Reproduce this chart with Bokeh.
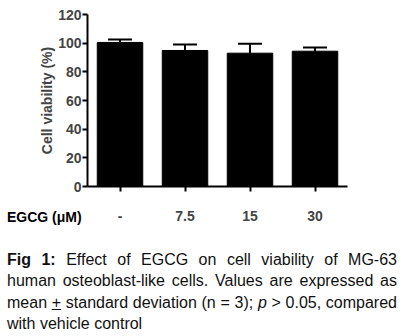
from bokeh.plotting import figure
from bokeh.models import Range1d, FixedTicker, Div, ColumnDataSource
from bokeh.layouts import column
from bokeh.embed import file_html
from bokeh.resources import INLINE

categories = ["-", "7.5", "15", "30"]
viability = [100.5, 94.9, 93.0, 94.4]
sd = [2.1, 4.2, 6.6, 2.6]
y_ticks = [0, 20, 40, 60, 80, 100, 120]
x_title = "EGCG (\u03bcM)"
y_title = "Cell viability (%)"

FONT = "Liberation Sans"

xs = [i + 0.5 for i in range(len(categories))]
tops = [v + s for v, s in zip(viability, sd)]
cap_half = 0.185

p = figure(width=415, height=240, output_backend="svg", toolbar_location=None,
           x_range=Range1d(0, len(categories)), y_range=Range1d(0, 120),
           min_border_left=87, min_border_right=68, min_border_top=14, min_border_bottom=54)
p.outline_line_color = None
p.xgrid.visible = False
p.ygrid.visible = False
p.background_fill_color = "white"
p.border_fill_color = "white"

src = ColumnDataSource(dict(x=xs, v=viability, top=tops,
                            cl=[x - cap_half for x in xs], cr=[x + cap_half for x in xs]))
p.segment(x0="x", y0="v", x1="x", y1="top", source=src, line_color="black", line_width=2)
p.segment(x0="cl", y0="top", x1="cr", y1="top", source=src, line_color="black", line_width=2)
p.vbar(x="x", top="v", width=0.7, bottom=0, source=src, fill_color="black", line_color="black")

# y axis
ya = p.yaxis[0]
ya.ticker = FixedTicker(ticks=y_ticks)
ya.axis_label = y_title
ya.axis_label_text_font = FONT
ya.axis_label_text_font_style = "bold"
ya.axis_label_text_font_size = "14px"
ya.axis_label_standoff = 0
ya.major_label_text_font = FONT
ya.major_label_text_font_style = "bold"
ya.major_label_text_font_size = "14px"
ya.major_label_standoff = 1
ya.axis_line_width = 2
ya.major_tick_line_width = 2
ya.major_tick_out = 5
ya.major_tick_in = 0
ya.minor_tick_line_color = None

# x axis
xa = p.xaxis[0]
xa.ticker = FixedTicker(ticks=xs)
xa.major_label_overrides = {x: c for x, c in zip(xs, categories)}
xa.major_label_text_font = FONT
xa.major_label_text_font_style = "bold"
xa.major_label_text_font_size = "14px"
xa.major_label_standoff = 19
xa.axis_line_width = 2
xa.major_tick_line_width = 2
xa.major_tick_out = 5
xa.major_tick_in = 0
xa.minor_tick_line_color = None

caption_lines = [
    "<b>Fig 1:</b> Effect of EGCG on cell viability of MG-63",
    "human osteoblast-like cells. Values are expressed as",
    "mean <u>+</u> standard deviation (n = 3); <i>p</i> &gt; 0.05, compared",
    "with vehicle control",
]
inner = ""
for i, line in enumerate(caption_lines):
    last = i == len(caption_lines) - 1
    align = "text-align:left;" if last else "text-align:justify;text-align-last:justify;"
    inner += f'<div style="{align}">{line}</div>'

html = (
    f'<div style="font-family:\'{FONT}\';color:#111;">'
    f'<div style="padding-left:7px;height:15px;line-height:15px;font-size:14px;font-weight:bold;color:#000;">{x_title}</div>'
    f'<div style="width:397px;padding:24px 0 0 7px;font-size:16px;line-height:21.3px;">{inner}</div>'
    f'</div>'
)
div = Div(text=html, width=415, height=126, margin=(-30, 0, 0, 0))

layout = column(p, div, spacing=0)
open("out.html", "w").write(file_html(layout, INLINE))
